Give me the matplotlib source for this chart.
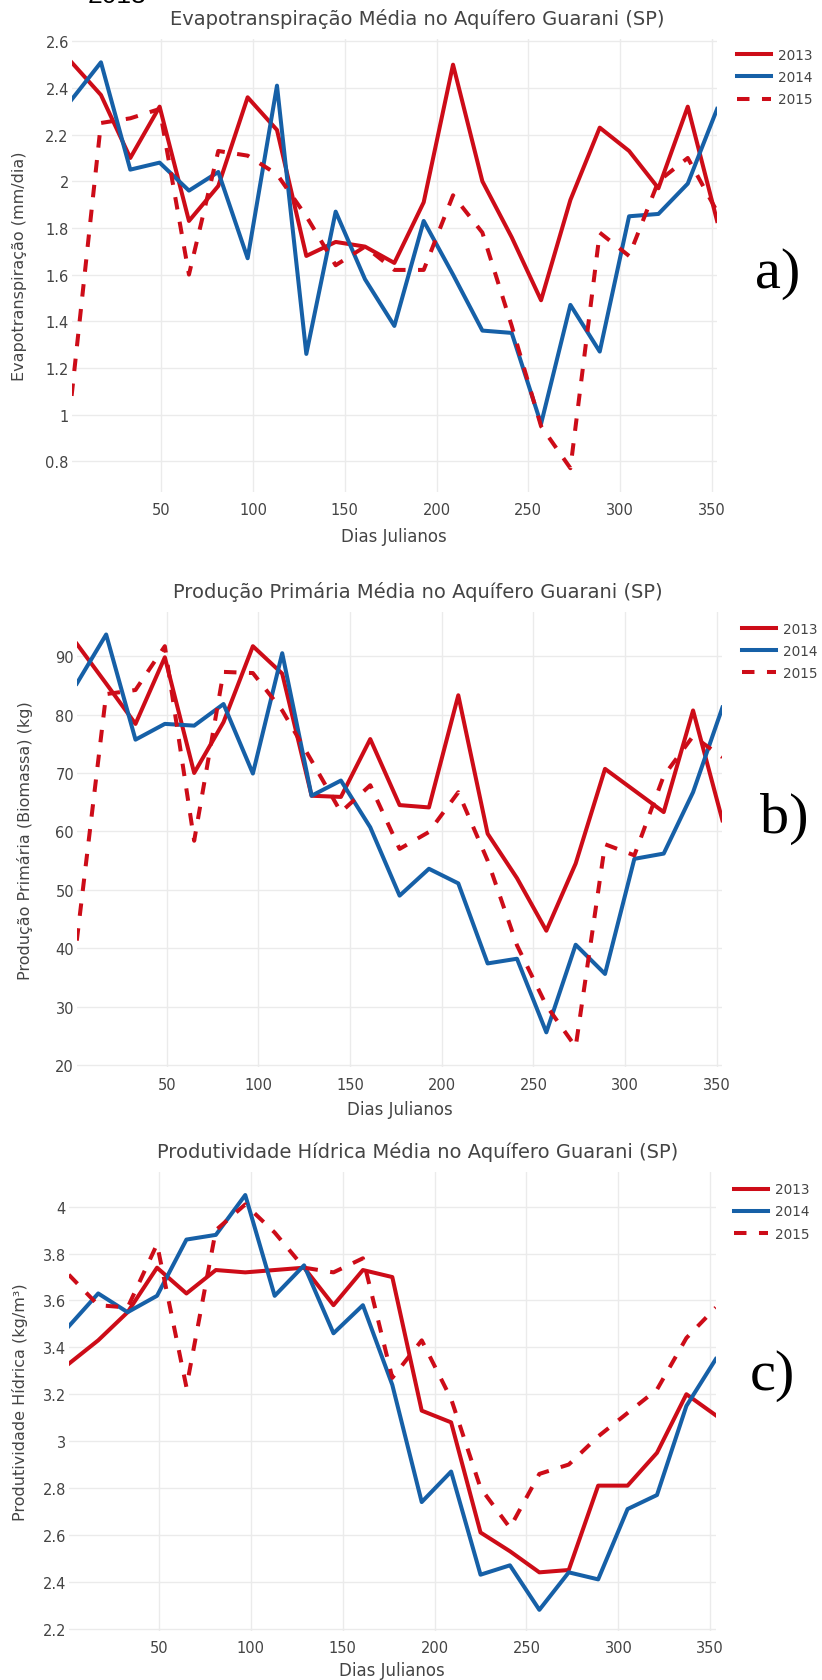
import numpy as np
import matplotlib
matplotlib.use("Agg")
import matplotlib.pyplot as plt
from matplotlib.ticker import FuncFormatter

days = [1, 17, 33, 49, 65, 81, 97, 113, 129, 145, 161, 177, 193, 209, 225, 241, 257, 273, 289, 305, 321, 337, 353]
years = ["2013", "2014", "2015"]

et_2013 = [2.51, 2.37, 2.10, 2.32, 1.83, 1.98, 2.36, 2.22, 1.68, 1.74, 1.72, 1.65, 1.91, 2.50, 2.00, 1.76, 1.49, 1.92, 2.23, 2.13, 1.97, 2.32, 1.83]
et_2014 = [2.35, 2.51, 2.05, 2.08, 1.96, 2.04, 1.67, 2.41, 1.26, 1.87, 1.58, 1.38, 1.83, 1.60, 1.36, 1.35, 0.96, 1.47, 1.27, 1.85, 1.86, 1.99, 2.31]
et_2015 = [1.08, 2.25, 2.27, 2.31, 1.60, 2.13, 2.11, 2.03, 1.85, 1.64, 1.72, 1.62, 1.62, 1.94, 1.78, 1.38, 0.95, 0.77, 1.78, 1.68, 2.00, 2.10, 1.87]

pp_2013 = [92.1, 85.3, 78.4, 89.8, 70.0, 78.7, 91.7, 87.0, 66.1, 65.9, 75.8, 64.5, 64.1, 83.3, 59.6, 52.0, 43.0, 54.5, 70.7, 67.0, 63.3, 80.7, 61.9]
pp_2014 = [85.3, 93.7, 75.7, 78.4, 78.1, 81.8, 69.9, 90.5, 66.1, 68.7, 60.7, 49.0, 53.6, 51.1, 37.4, 38.2, 25.6, 40.6, 35.6, 55.3, 56.2, 66.7, 81.2]
pp_2015 = [41.3, 83.5, 84.2, 91.7, 58.4, 87.3, 87.1, 80.7, 72.1, 63.3, 67.9, 57.0, 59.9, 66.7, 55.0, 40.5, 30.2, 23.1, 57.8, 55.9, 69.5, 76.3, 72.7]

wp_2013 = [3.33, 3.43, 3.55, 3.74, 3.63, 3.73, 3.72, 3.73, 3.74, 3.58, 3.73, 3.70, 3.13, 3.08, 2.61, 2.53, 2.44, 2.45, 2.81, 2.81, 2.95, 3.20, 3.11]
wp_2014 = [3.49, 3.63, 3.55, 3.62, 3.86, 3.88, 4.05, 3.62, 3.75, 3.46, 3.58, 3.24, 2.74, 2.87, 2.43, 2.47, 2.28, 2.44, 2.41, 2.71, 2.77, 3.15, 3.35]
wp_2015 = [3.71, 3.58, 3.57, 3.84, 3.23, 3.90, 4.01, 3.89, 3.74, 3.72, 3.78, 3.27, 3.43, 3.18, 2.80, 2.63, 2.86, 2.90, 3.02, 3.12, 3.22, 3.44, 3.57]

titles = ["Evapotranspiração Média no Aquífero Guarani (SP)",
          "Produção Primária Média no Aquífero Guarani (SP)",
          "Produtividade Hídrica Média no Aquífero Guarani (SP)"]
ylabels = ["Evapotranspiração (mm/dia)",
           "Produção Primária (Biomassa) (kg)",
           "Produtividade Hídrica (kg/m³)"]
panel_tags = ["a)", "b)", "c)"]

RED = "#cd0c18"
BLUE = "#1660a7"
GRAY = "#444444"
W, H = 822, 1681

plt.rcParams["font.family"] = ["DejaVu Sans"]
fig = plt.figure(figsize=(W / 100, H / 100), dpi=100)


def px(x, y):
    # pixel (from top-left) -> figure fraction
    return x / W, 1 - y / H


# layout per panel in pixels: axes box (left, right, top, bottom), title y, x label y,
# y label x, legend anchor (x, top), tag (x, baseline)
panels = [
    dict(box=(71.6, 717.1, 40, 493), ylim=(0.668, 2.61), yticks=np.arange(0.8, 2.61, 0.2),
         title_y=19.3, xlab_y=537, ylab_x=20, leg=(736.7, 49), tag=(755, 288),
         series=(et_2013, et_2014, et_2015)),
    dict(box=(76.8, 722.4, 613.3, 1068), ylim=(19.67, 97.5), yticks=np.arange(20, 91, 10),
         title_y=591.7, xlab_y=1110, ylab_x=25, leg=(741.7, 622.5), tag=(760, 833),
         series=(pp_2013, pp_2014, pp_2015)),
    dict(box=(68.8, 715.8, 1173.3, 1631.7), ylim=(2.191, 4.147), yticks=np.arange(2.2, 4.01, 0.2),
         title_y=1152.3, xlab_y=1670.7, ylab_x=20, leg=(733.9, 1183.3), tag=(750, 1390),
         series=(wp_2013, wp_2014, wp_2015)),
]

fmt = FuncFormatter(lambda v, pos: "%g" % round(v, 2))

for i, p in enumerate(panels):
    l, r, t, b = p["box"]
    x0, y0 = px(l, b)
    ax = fig.add_axes([x0, y0, (r - l) / W, (b - t) / H])
    s13, s14, s15 = p["series"]
    ax.plot(days, s13, color=RED, lw=2.9, label=years[0], solid_joinstyle="round")
    ax.plot(days, s14, color=BLUE, lw=2.9, label=years[1], solid_joinstyle="round")
    ax.plot(days, s15, color=RED, lw=2.9, label=years[2], dashes=(3.1, 3.1))
    ax.set_xlim(1, 353)
    ax.set_ylim(*p["ylim"])
    ax.set_xticks([50, 100, 150, 200, 250, 300, 350])
    ax.set_yticks(p["yticks"])
    ax.yaxis.set_major_formatter(fmt)
    ax.grid(True, color="#ebebeb", lw=1)
    ax.set_axisbelow(True)
    for sp in ax.spines.values():
        sp.set_visible(False)
    ax.tick_params(length=0, labelsize=10.5, labelcolor=GRAY)
    ax.tick_params(axis="x", pad=7)
    ax.tick_params(axis="y", pad=2)

    fig.text(0.508, px(0, p["title_y"])[1], titles[i], ha="center", va="center",
             fontsize=14, color=GRAY)
    fig.text((l + r) / 2 / W, px(0, p["xlab_y"])[1], "Dias Julianos", ha="center",
             va="center", fontsize=12, color=GRAY)
    fig.text(p["ylab_x"] / W, px(0, (t + b) / 2)[1], ylabels[i], rotation=90,
             ha="center", va="center", fontsize=11.5, color=GRAY)

    lx, ly = px(*p["leg"])
    ax.legend(loc="upper left", bbox_to_anchor=(lx, ly), bbox_transform=fig.transFigure,
              frameon=False, fontsize=9.8, labelcolor=GRAY, handlelength=2.5,
              handletextpad=0.5, labelspacing=0.6, borderpad=0, borderaxespad=0)

    tx, ty = px(*p["tag"])
    fig.text(tx, ty, panel_tags[i], ha="left", va="baseline", fontsize=42,
             family="Liberation Serif", color="black")

# cropped caption remnant at the very top edge, as in the source image
fig.text(88 / W, 1 - 3.3 / H, "2013", ha="left", va="baseline", fontsize=19,
         family="Liberation Sans", color="black")

fig.savefig("out.png", dpi=100)
